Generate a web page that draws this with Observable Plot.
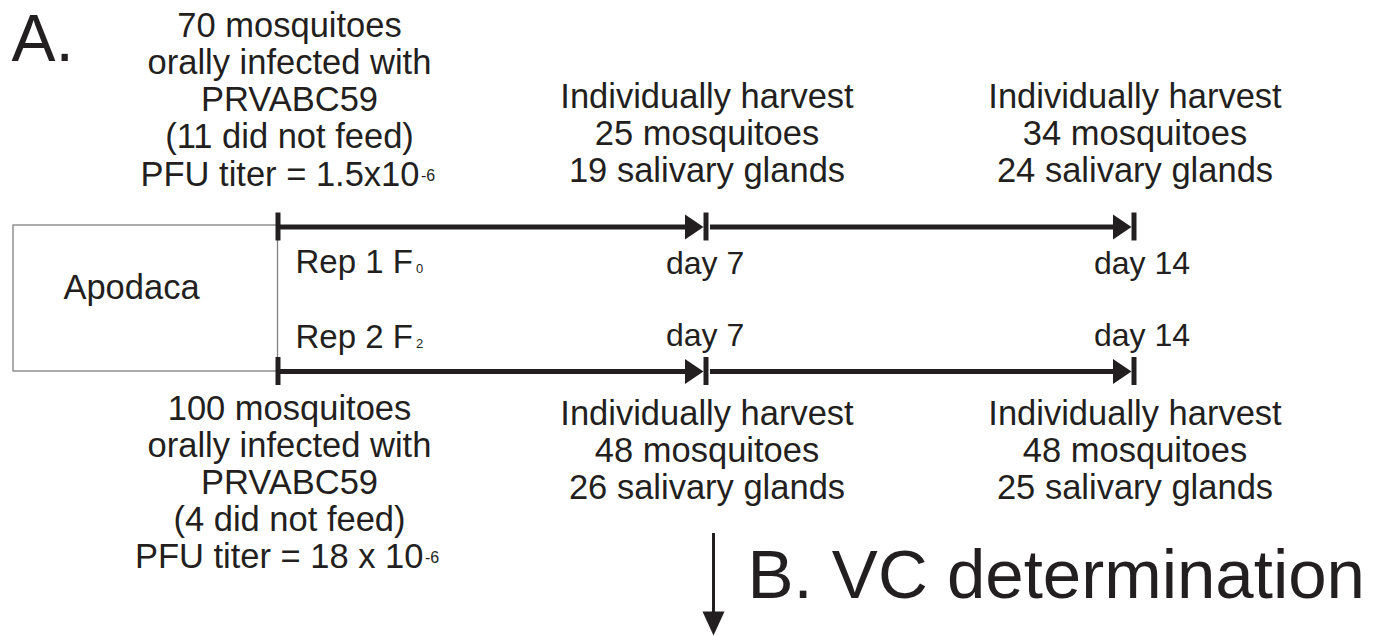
<!DOCTYPE html>
<html><head><meta charset="utf-8">
<script src="https://cdn.jsdelivr.net/npm/d3@7"></script>
<script src="https://cdn.jsdelivr.net/npm/@observablehq/plot@0.6"></script>
<style>html,body{margin:0;padding:0;background:#fff;} #chart svg{display:block;}</style>
</head><body><div id="chart"></div>
<script>
// ---------- data ----------
const population = "Apodaca";
const strain = "PRVABC59";
const replicates = ["Rep 1", "Rep 2"];
const generations = ["0", "2"];
const mosquitoesFed = [70, 100];
const didNotFeed = [11, 4];
const titerMantissa = ["1.5x10", "18 x 10"];
const titerExponent = ["-6", "-6"];
const timelineDays = [0, 7, 14];
const harvestDays = [7, 14];
const harvestedMosquitoes = [[25, 34], [48, 48]];
const harvestedGlands = [[19, 24], [26, 25]];
const panelA = "A.";
const panelB = "B. VC determination";

// ---------- layout / style ----------
const W = 1379, H = 636;
const ink = "#231f20";
const font = '"Liberation Sans", Arial, Helvetica, sans-serif';
const xRange = [277.5, 1133.5];          // pixel span of day 0 .. day 14
const rowY = [226.5, 371];               // timeline rows (px)
const infoBottom = [147, 530];           // baseline of last line of infection block
const titerY = [185, 567];
const titerEndX = [419, 423];
const titerFont = [34.5, 34.5];
const harvestBottom = [181, 498];
const repLabelY = [272.5, 347.5];
const dayLabelY = [273, 345];
const bodyFont = 34.5, lineH = 37 / 34.5;

const xs = Plot.scale({x: {domain: [timelineDays[0], timelineDays[timelineDays.length - 1]], range: xRange}});
const offsetFromDay0 = px => px - xRange[0];

const arrowHead = (len, wid) => ({
  draw(ctx) { ctx.moveTo(0, 0); ctx.lineTo(-len, -wid / 2); ctx.lineTo(-len, wid / 2); ctx.closePath(); }
});

// ---------- derived tables ----------
const segs = replicates.flatMap((rep, r) =>
  timelineDays.slice(1).map((d, i) => ({r, x1: timelineDays[i], x2: d, y: rowY[r]})));
const ticks = replicates.flatMap((rep, r) =>
  timelineDays.map(d => ({x: d, y1: rowY[r] - 14, y2: rowY[r] + 14})));
const heads = replicates.flatMap((rep, r) => harvestDays.map(d => ({x: d, y: rowY[r]})));
const infoBlocks = replicates.map((rep, r) => ({
  text: `${mosquitoesFed[r]} mosquitoes\norally infected with\n${strain}\n(${didNotFeed[r]} did not feed)`,
  x: timelineDays[0], y: infoBottom[r]}));
const harvestBlocks = replicates.flatMap((rep, r) => harvestDays.map((d, j) => ({
  text: `Individually harvest\n${harvestedMosquitoes[r][j]} mosquitoes\n${harvestedGlands[r][j]} salivary glands`,
  x: d, y: harvestBottom[r]})));
const repLabels = replicates.map((rep, r) => ({text: `${rep} F`, sub: generations[r], x: timelineDays[0], y: repLabelY[r]}));
const dayLabels = replicates.flatMap((rep, r) => harvestDays.map(d => ({text: `day ${d}`, x: d, y: dayLabelY[r]})));

const txt = {fill: ink, fontFamily: font};

const marks = [
  // population box
  Plot.rect([population], {x1: xs.invert(13), x2: timelineDays[0], y1: 225, y2: 371,
    fill: "none", stroke: "#808080", strokeWidth: 1.3}),
  Plot.text([population], {x: timelineDays[0], y: 298, dx: offsetFromDay0(131), text: d => d,
    fontSize: bodyFont, lineAnchor: "bottom", ...txt}),
  // timelines
  Plot.ruleY(segs.filter(s => s.x1 === timelineDays[0]), {x1: "x1", x2: "x2", y: "y", stroke: ink, strokeWidth: 5, insetRight: 10}),
  Plot.ruleY(segs.filter(s => s.x1 !== timelineDays[0]), {x1: "x1", x2: "x2", y: "y", stroke: ink, strokeWidth: 5, insetLeft: 4.5, insetRight: 10}),
  Plot.ruleX(ticks, {x: "x", y1: "y1", y2: "y2", stroke: ink, strokeWidth: 5}),
  Plot.dot(heads, {x: "x", y: "y", symbol: arrowHead(18.5, 25), r: 5, fill: ink, dx: -2.5}),
  // infection blocks
  Plot.text(infoBlocks, {x: "x", y: "y", text: "text", dx: 11.5, fontSize: bodyFont, lineHeight: lineH,
    lineAnchor: "bottom", textAnchor: "middle", ...txt}),
  // harvest blocks
  Plot.text(harvestBlocks, {x: "x", y: "y", text: "text", dx: 1, fontSize: bodyFont, lineHeight: lineH,
    lineAnchor: "bottom", textAnchor: "middle", ...txt}),
  // rep labels
  Plot.text(repLabels, {x: "x", y: "y", text: "text", dx: 17.5, fontSize: 33, lineAnchor: "bottom", textAnchor: "start", ...txt}),
  Plot.text(repLabels, {x: "x", y: "y", text: "sub", dx: 138, fontSize: 13, lineAnchor: "bottom", textAnchor: "start", ...txt}),
  // day labels
  Plot.text(dayLabels, {x: "x", y: "y", text: "text", dx: -40, fontSize: 32, lineAnchor: "bottom", textAnchor: "start", ...txt}),
  // panel labels
  Plot.text([panelA], {frameAnchor: "top-left", text: d => d, dx: 11, dy: 60, fontSize: 66, lineAnchor: "bottom", textAnchor: "start", ...txt}),
  Plot.text([panelB], {x: harvestDays[0], y: 597, text: d => d, dx: 41.5, fontSize: 69, lineAnchor: "bottom", textAnchor: "start", ...txt}),
  // flow arrow to panel B
  Plot.ruleX([harvestDays[0]], {x: d => d, y1: 533, y2: 615, dx: 7.5, stroke: ink, strokeWidth: 3}),
  Plot.dot([harvestDays[0]], {x: d => d, y: 635, dx: 7.5, symbol: arrowHead(24, 22), rotate: 90, r: 5, fill: ink})
];

// titer lines with superscript exponent
replicates.forEach((rep, r) => {
  marks.push(Plot.text([`PFU titer = ${titerMantissa[r]}`], {x: timelineDays[0], y: titerY[r], text: d => d,
    dx: offsetFromDay0(titerEndX[r]), fontSize: titerFont[r], lineAnchor: "bottom", textAnchor: "end", ...txt}));
  marks.push(Plot.text([titerExponent[r]], {x: timelineDays[0], y: titerY[r] - 4.5, text: d => d,
    dx: offsetFromDay0(titerEndX[r] + 1.5), fontSize: 16, lineAnchor: "bottom", textAnchor: "start", ...txt}));
});

const chart = Plot.plot({
  width: W, height: H, margin: 0,
  x: {domain: [timelineDays[0], timelineDays[timelineDays.length - 1]], range: xRange, axis: null},
  y: {domain: [0, H], range: [0, H], axis: null},
  style: {background: "#fff", fontFamily: font, color: ink},
  marks
});
document.getElementById("chart").append(chart);
</script>
</body></html>
